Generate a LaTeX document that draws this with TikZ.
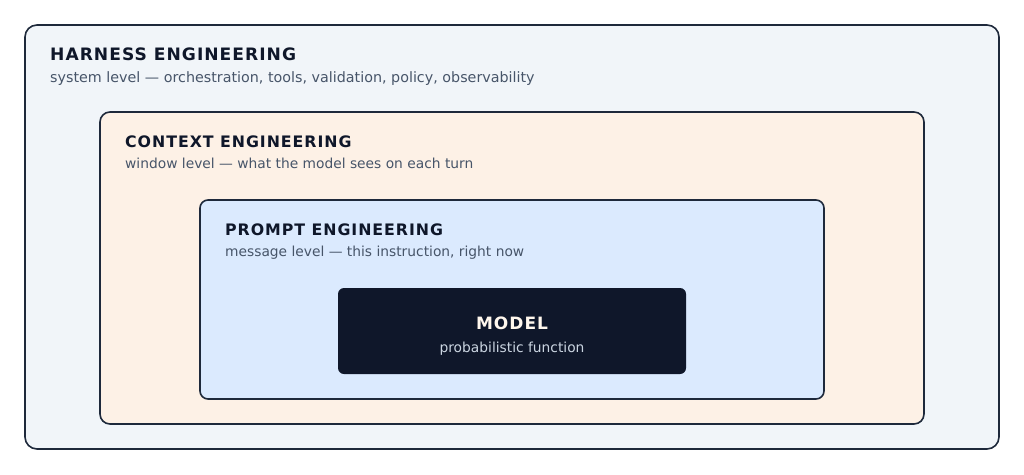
\documentclass[tikz,border=0pt]{standalone}
\usepackage{fontspec}
\setmainfont{DejaVu Sans}
\newfontfamily\titlefont[LetterSpace=6]{DejaVu Sans Bold}
\definecolor{bgwhite}{HTML}{FFFFFF}
\definecolor{strokec}{HTML}{1E293B}
\definecolor{harnessfill}{HTML}{F1F5F9}
\definecolor{contextfill}{HTML}{FDF1E6}
\definecolor{promptfill}{HTML}{DBEAFE}
\definecolor{modelfill}{HTML}{0F172A}
\definecolor{titlec}{HTML}{0F172A}
\definecolor{subc}{HTML}{475569}
\definecolor{modeltitle}{HTML}{FFF7ED}
\definecolor{modelsub}{HTML}{CBD5E1}
\tikzset{
  layer/.style={draw=strokec, line width=1.6pt},
  ttl/.style={anchor=base west, inner sep=0pt, text=titlec, font=\titlefont\fontsize{15.8}{19}\selectfont},
  sub/.style={anchor=base west, inner sep=0pt, text=subc, font=\fontsize{13.8}{17}\selectfont},
}
\begin{document}
\begin{tikzpicture}[x=1pt,y=-1pt]
\fill[bgwhite] (0,0) rectangle (1024,474);
\useasboundingbox (0,0) rectangle (1024,474);
\draw[layer, fill=harnessfill, rounded corners=12pt] (25,25) rectangle (999,449);
\node[ttl, font=\titlefont\fontsize{17.1}{20}\selectfont] (ht) at (50,60) {HARNESS ENGINEERING};
\node[sub, font=\fontsize{14.3}{17}\selectfont] (hs) at (50,82) {system level — orchestration, tools, validation, policy, observability};
\draw[layer, fill=contextfill, rounded corners=10pt] (100,112) rectangle (924,424);
\node[ttl] (ct) at (125,147.5) {CONTEXT ENGINEERING};
\node[sub] (cs) at (125,168.5) {window level — what the model sees on each turn};
\draw[layer, fill=promptfill, rounded corners=8pt] (200,200) rectangle (824,399);
\node[ttl] (pt) at (225,235) {PROMPT ENGINEERING};
\node[sub] (ps) at (225,256) {message level — this instruction, right now};
\fill[modelfill, rounded corners=6pt] (338,288) rectangle (686,374);
\node[anchor=base, inner sep=0pt, text=modeltitle, font=\titlefont\fontsize{17}{20}\selectfont] (mt) at (512,329) {MODEL};
\node[anchor=base, inner sep=0pt, text=modelsub, font=\fontsize{13.8}{16}\selectfont] (ms) at (512,352) {probabilistic function};
\end{tikzpicture}
\end{document}
